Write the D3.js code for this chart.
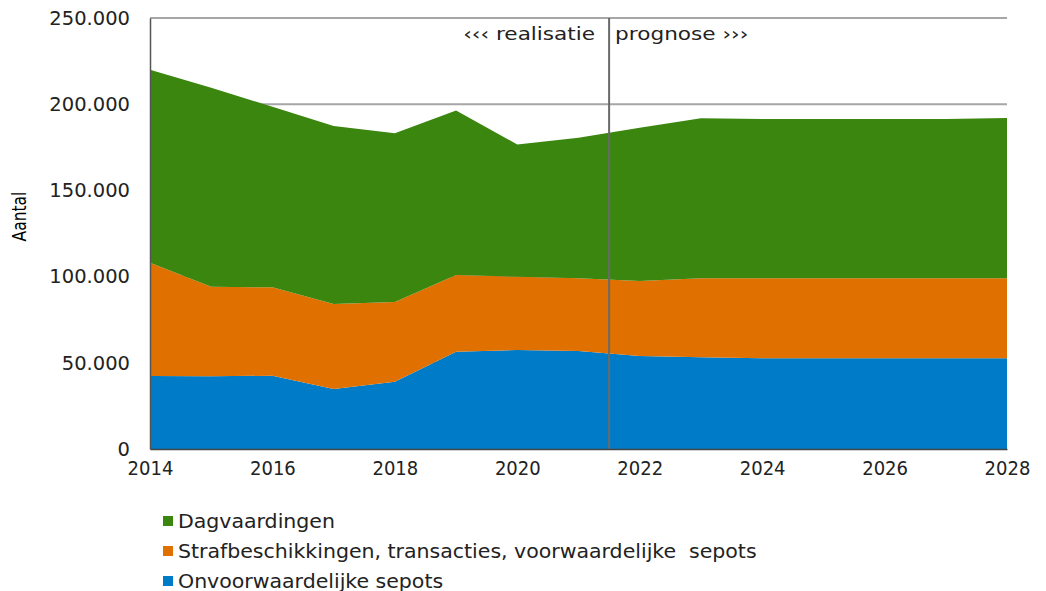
<!DOCTYPE html>
<html>
<head>
<meta charset="utf-8">
<script src="https://cdn.jsdelivr.net/npm/d3@7/dist/d3.min.js"></script>
<style>
  html, body { margin: 0; padding: 0; background: #fff; }
  svg { display: block; }
</style>
</head>
<body>
<svg id="chart" width="1046" height="591"></svg>
<script>
// Jaren en aantallen per afdoeningssoort (gestapeld)
const years = [2014, 2015, 2016, 2017, 2018, 2019, 2020, 2021, 2022, 2023, 2024, 2025, 2026, 2027, 2028];
const onvoorwaardelijkeSepots = [42300, 42200, 42500, 34800, 39000, 56400, 57400, 56800, 53900, 53200, 52600, 52600, 52600, 52600, 52600];
const strafbeschikkingen = [65800, 51900, 51300, 49300, 46300, 44500, 42500, 42200, 43600, 45800, 46400, 46400, 46400, 46400, 46400];
const dagvaardingen = [111900, 115400, 104700, 103300, 97800, 95500, 76700, 81600, 88800, 92800, 92400, 92400, 92400, 92400, 93000];

const seriesNames = ["Onvoorwaardelijke sepots", "Strafbeschikkingen, transacties, voorwaardelijke  sepots", "Dagvaardingen"];
const seriesColors = ["#007bc7", "#e07000", "#3a860f"];
const yTicks = [0, 50000, 100000, 150000, 200000, 250000];
const xTicks = [2014, 2016, 2018, 2020, 2022, 2024, 2026, 2028];
const splitYear = 2021.5;

const rows = years.map((y, i) => ({
  year: y,
  [seriesNames[0]]: onvoorwaardelijkeSepots[i],
  [seriesNames[1]]: strafbeschikkingen[i],
  [seriesNames[2]]: dagvaardingen[i]
}));

const svg = d3.select("#chart");
const m = { left: 150, right: 39, top: 18, bottom: 142 };
const W = 1046, H = 591;
const sx = 1.2; // horizontale rek van de tekst

const x = d3.scaleLinear().domain([2014, 2028]).range([m.left, W - m.right]);
const y = d3.scaleLinear().domain([0, 250000]).range([H - m.bottom, m.top]);

const nl = d3.formatLocale({ decimal: ",", thousands: ".", grouping: [3], currency: ["€", ""] });
const fmt = nl.format(",d");

// rasterlijnen
svg.append("g")
  .selectAll("line")
  .data(yTicks.filter(d => d > 0))
  .join("line")
  .attr("x1", x(2014)).attr("x2", x(2028))
  .attr("y1", d => y(d)).attr("y2", d => y(d))
  .attr("stroke", "#a6a6a6").attr("stroke-width", 2);

// gestapelde vlakken
const stack = d3.stack().keys(seriesNames);
const layers = stack(rows);
const area = d3.area()
  .x(d => x(d.data.year))
  .y0(d => y(d[0]))
  .y1(d => y(d[1]));

svg.append("g")
  .selectAll("path")
  .data(layers)
  .join("path")
  .attr("d", area)
  .attr("fill", (d, i) => seriesColors[i]);

// scheiding realisatie / prognose
svg.append("line")
  .attr("x1", x(splitYear)).attr("x2", x(splitYear))
  .attr("y1", y(250000)).attr("y2", y(0))
  .attr("stroke", "#6a6a6a").attr("stroke-width", 2);

svg.append("text")
  .attr("transform", `translate(${x(splitYear) - 14},40) scale(${sx},1)`)
  .attr("text-anchor", "end")
  .attr("font-family", "DejaVu Sans, Verdana, sans-serif")
  .attr("font-size", 18).attr("fill", "#222")
  .text("‹‹‹ realisatie");

svg.append("text")
  .attr("transform", `translate(${x(splitYear) + 6},40) scale(${sx},1)`)
  .attr("text-anchor", "start")
  .attr("font-family", "DejaVu Sans, Verdana, sans-serif")
  .attr("font-size", 18).attr("fill", "#222")
  .text("prognose ›››");

// y-as
const yAxis = svg.append("g")
  .attr("transform", `translate(${m.left},0)`)
  .call(d3.axisLeft(y).tickValues(yTicks).tickFormat(d => d === 0 ? "0" : fmt(d)).tickSize(0).tickPadding(20));
yAxis.select(".domain").attr("stroke", "#555").attr("stroke-width", 1.5);
yAxis.selectAll("text")
  .attr("font-family", "DejaVu Sans, Verdana, sans-serif")
  .attr("font-size", 19.5).attr("fill", "#222");

// x-as
const xAxis = svg.append("g")
  .attr("transform", `translate(0,${H - m.bottom})`)
  .call(d3.axisBottom(x).tickValues(xTicks).tickFormat(d3.format("d")).tickSize(0).tickPadding(12));
xAxis.select(".domain").attr("stroke", "#444").attr("stroke-width", 1.5);
xAxis.selectAll("text")
  .attr("font-family", "DejaVu Sans Condensed, DejaVu Sans, sans-serif")
  .attr("font-size", 20).attr("fill", "#222");

// as-titel
svg.append("text")
  .attr("transform", `translate(26,${(y(250000) + y(0)) / 2 - 17}) rotate(-90) scale(1,1.3)`)
  .attr("text-anchor", "middle")
  .attr("font-family", "DejaVu Sans, Verdana, sans-serif")
  .attr("font-size", 15.5).attr("fill", "#000")
  .text("Aantal");

// legenda (bovenste laag eerst)
const legendItems = seriesNames.map((n, i) => ({ name: n, color: seriesColors[i] })).reverse();
const legend = svg.append("g");
const li = legend.selectAll("g")
  .data(legendItems)
  .join("g")
  .attr("transform", (d, i) => `translate(163,${521 + i * 30})`);
li.append("rect")
  .attr("x", 0).attr("y", -5).attr("width", 10).attr("height", 10)
  .attr("fill", d => d.color);
li.append("text")
  .attr("transform", `translate(15,0) scale(${sx},1)`)
  .attr("dy", "0.35em")
  .attr("font-family", "DejaVu Sans Condensed, DejaVu Sans, sans-serif")
  .attr("font-size", 19).attr("fill", "#222")
  .style("white-space", "pre")
  .text(d => d.name);
</script>
</body>
</html>
